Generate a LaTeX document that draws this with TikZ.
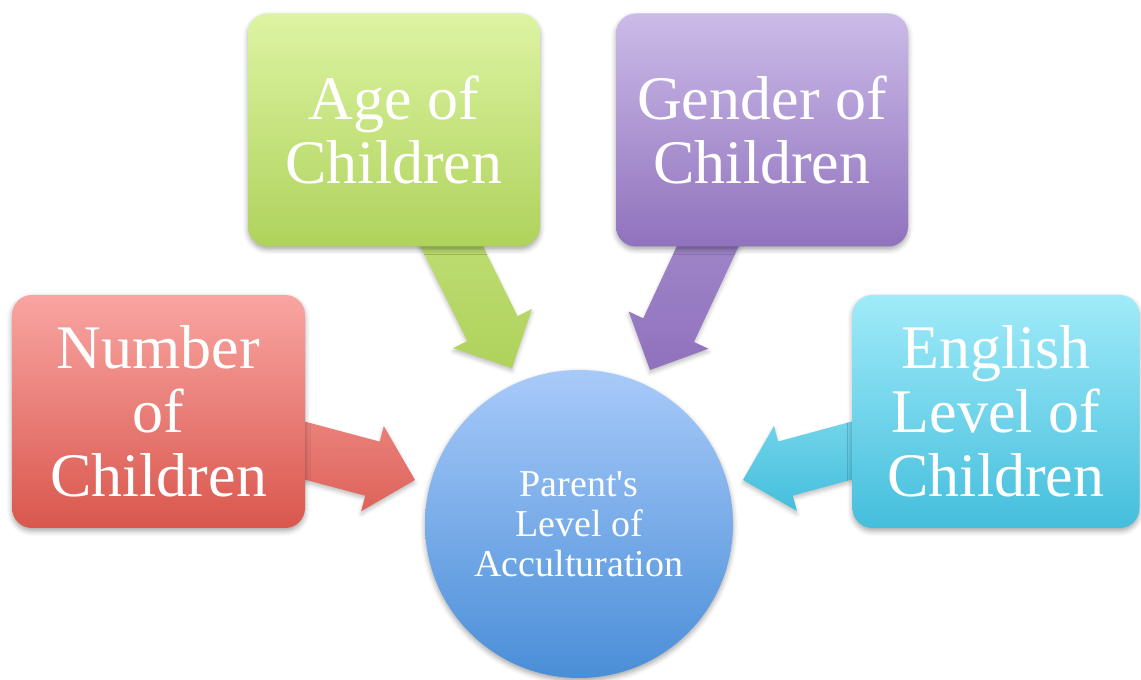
\documentclass[tikz,border=0pt]{standalone}
\usepackage{fontspec}
\setmainfont{Liberation Serif}
\usetikzlibrary{calc,shadows.blur}

\definecolor{agetop}{HTML}{DDF4A2}
\definecolor{agebot}{HTML}{AFD25C}
\definecolor{gentop}{HTML}{CBBBE8}
\definecolor{genbot}{HTML}{9072BD}
\definecolor{numtop}{HTML}{F9A5A2}
\definecolor{numbot}{HTML}{D9574D}
\definecolor{engtop}{HTML}{A0EBF9}
\definecolor{engbot}{HTML}{44BEDC}
\definecolor{hubtop}{HTML}{A8CAF9}
\definecolor{hubbot}{HTML}{4A8ED8}

\tikzset{
	box/.style={rounded corners=20pt, minimum width=#1, minimum height=233pt,
		inner sep=0pt, align=center, text=white,
		font=\fontsize{62}{64}\selectfont,
		blur shadow={shadow xshift=0pt, shadow yshift=-3pt, shadow blur radius=5pt, shadow opacity=35}},
	hub/.style={circle, minimum size=308pt, inner sep=0pt, align=center, text=white,
		font=\fontsize{38}{40}\selectfont, top color=hubtop, bottom color=hubbot,
		blur shadow={shadow xshift=0pt, shadow yshift=-3pt, shadow blur radius=5pt, shadow opacity=35}},
	flow/.style={blur shadow={shadow xshift=0pt, shadow yshift=-3pt, shadow blur radius=4pt, shadow opacity=25}}
}

% block arrow from the centre of a box to a tip
\newcommand{\blockarrow}[3]{%
	\coordinate (hb) at ($(#2)!44pt!(#1)$);
	\path[flow, #3] ($(#1)!28pt!-90:(#2)$) -- ($(hb)!28pt!-90:(#2)$) -- ($(hb)!44pt!-90:(#2)$)
		-- (#2) -- ($(hb)!44pt!90:(#2)$) -- ($(hb)!28pt!90:(#2)$) -- ($(#1)!28pt!90:(#2)$) -- cycle;
}

\begin{document}
\begin{tikzpicture}[x=1pt, y=1pt]
	\useasboundingbox (0,0) rectangle (1141,680);

	\coordinate (age c) at (394,550);
	\coordinate (gender c) at (762,550);
	\coordinate (number c) at (158.5,268.5);
	\coordinate (english c) at (996,268.5);

	\coordinate (age tip) at (512,312);
	\coordinate (gender tip) at (650,310);
	\coordinate (number tip) at (415,200);
	\coordinate (english tip) at (743,200);

	\blockarrow{age c}{age tip}{top color=agetop!60!agebot, bottom color=agebot}
	\blockarrow{gender c}{gender tip}{top color=gentop!50!genbot, bottom color=genbot}
	\blockarrow{number c}{number tip}{top color=numtop!70!numbot, bottom color=numbot!85!numtop}
	\blockarrow{english c}{english tip}{top color=engtop!70!engbot, bottom color=engbot}

	\node[hub] (parent) at (579,156) {Parent\textquotesingle s\\Level of\\Acculturation};

	\node[box=292pt, top color=agetop, bottom color=agebot] (age) at (age c) {Age of\\Children};
	\node[box=292pt, top color=gentop, bottom color=genbot] (gender) at (gender c) {Gender of\\Children};
	\node[box=293pt, top color=numtop, bottom color=numbot] (number) at (number c) {Number\\of\\Children};
	\node[box=287pt, top color=engtop, bottom color=engbot] (english) at (english c) {English\\Level of\\Children};
\end{tikzpicture}
\end{document}
